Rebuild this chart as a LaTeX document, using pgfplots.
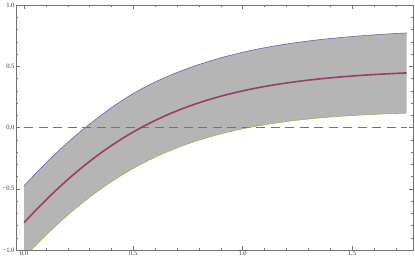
\documentclass[border=0pt]{standalone}
\usepackage{fontspec}
\setmainfont{Liberation Serif}
\usepackage{pgfplots}
\usepackage{pgfplotstable}
\pgfplotsset{compat=1.18}
\usepgfplotslibrary{fillbetween}
\definecolor{mblue}{rgb}{0.36,0.36,0.7}
\definecolor{mpurple}{rgb}{0.6,0.24,0.42}
\definecolor{molive}{rgb}{0.68,0.66,0.3}
\definecolor{fillgray}{gray}{0.71}
\definecolor{framegray}{gray}{0.45}
\definecolor{dashgray}{gray}{0.45}

\pgfplotstableread{
x mid up lo
0.00 -0.7770 -0.4770 -1.0620
0.05 -0.6827 -0.3820 -0.9690
0.10 -0.5924 -0.2909 -0.8799
0.15 -0.5065 -0.2043 -0.7953
0.20 -0.4252 -0.1222 -0.7152
0.25 -0.3486 -0.0449 -0.6399
0.30 -0.2768 0.0277 -0.5693
0.35 -0.2097 0.0956 -0.5035
0.40 -0.1474 0.1620 -0.4424
0.45 -0.0896 0.2220 -0.3859
0.50 -0.0363 0.2770 -0.3338
0.55 0.0127 0.3270 -0.2861
0.60 0.0577 0.3720 -0.2423
0.65 0.0989 0.4120 -0.2024
0.70 0.1364 0.4490 -0.1661
0.75 0.1706 0.4830 -0.1332
0.80 0.2016 0.5140 -0.1034
0.85 0.2297 0.5425 -0.0766
0.90 0.2552 0.5687 -0.0523
0.95 0.2782 0.5925 -0.0306
1.00 0.2989 0.6139 -0.0111
1.05 0.3177 0.6335 0.0065
1.10 0.3346 0.6511 0.0221
1.15 0.3497 0.6670 0.0360
1.20 0.3633 0.6813 0.0483
1.25 0.3755 0.6943 0.0593
1.30 0.3865 0.7060 0.0690
1.35 0.3963 0.7166 0.0776
1.40 0.4051 0.7261 0.0851
1.45 0.4130 0.7348 0.0918
1.50 0.4201 0.7426 0.0976
1.55 0.4264 0.7497 0.1027
1.60 0.4320 0.7560 0.1070
1.65 0.4371 0.7619 0.1109
1.70 0.4416 0.7671 0.1141
1.75 0.4455 0.7718 0.1168
}\curves

\begin{document}
\begin{tikzpicture}
\begin{axis}[
  scale only axis,
  width=397bp, height=245bp,
  xmin=-0.0366, xmax=1.779,
  ymin=-1, ymax=1,
  xtick={0,0.5,1,1.5},
  xticklabels={0.0,0.5,1.0,1.5},
  ytick={-1,-0.5,0,0.5,1},
  yticklabels={−1.0,−0.5,0.0,0.5,1.0},
  minor xtick={0.1,0.2,0.3,0.4,0.6,0.7,0.8,0.9,1.1,1.2,1.3,1.4,1.6,1.7},
  minor ytick={-0.9,-0.8,-0.7,-0.6,-0.4,-0.3,-0.2,-0.1,0.1,0.2,0.3,0.4,0.6,0.7,0.8,0.9},
  tick align=inside,
  tick pos=both,
  major tick length=4bp,
  minor tick length=2.3bp,
  every tick/.style={framegray, line width=0.4bp},
  axis line style={framegray, line width=0.5bp},
  tick label style={font=\fontsize{6.6}{7.5}\selectfont, text=black!80},
  xticklabel style={inner sep=1.3bp},
  yticklabel style={inner sep=1.3bp},
]
\addplot[name path=up, draw=none, forget plot] table[x=x, y=up] {\curves};
\addplot[name path=lo, draw=none, forget plot] table[x=x, y=lo] {\curves};
\addplot[fill=fillgray, draw=none] fill between[of=up and lo];
\addplot[dashgray, line width=0.8bp, dash pattern=on 9bp off 5.5bp] coordinates {(0,0) (1.75,0)};
\addplot[mblue, line width=0.55bp, smooth] table[x=x, y=up] {\curves};
\addplot[molive, line width=0.55bp, smooth] table[x=x, y=lo] {\curves};
\addplot[mpurple, line width=1.6bp, smooth] table[x=x, y=mid] {\curves};
\end{axis}
\pgfresetboundingbox
\path ([xshift=-16bp,yshift=-12bp]current axis.south west) rectangle ([xshift=2bp,yshift=5bp]current axis.north east);
\end{tikzpicture}
\end{document}
